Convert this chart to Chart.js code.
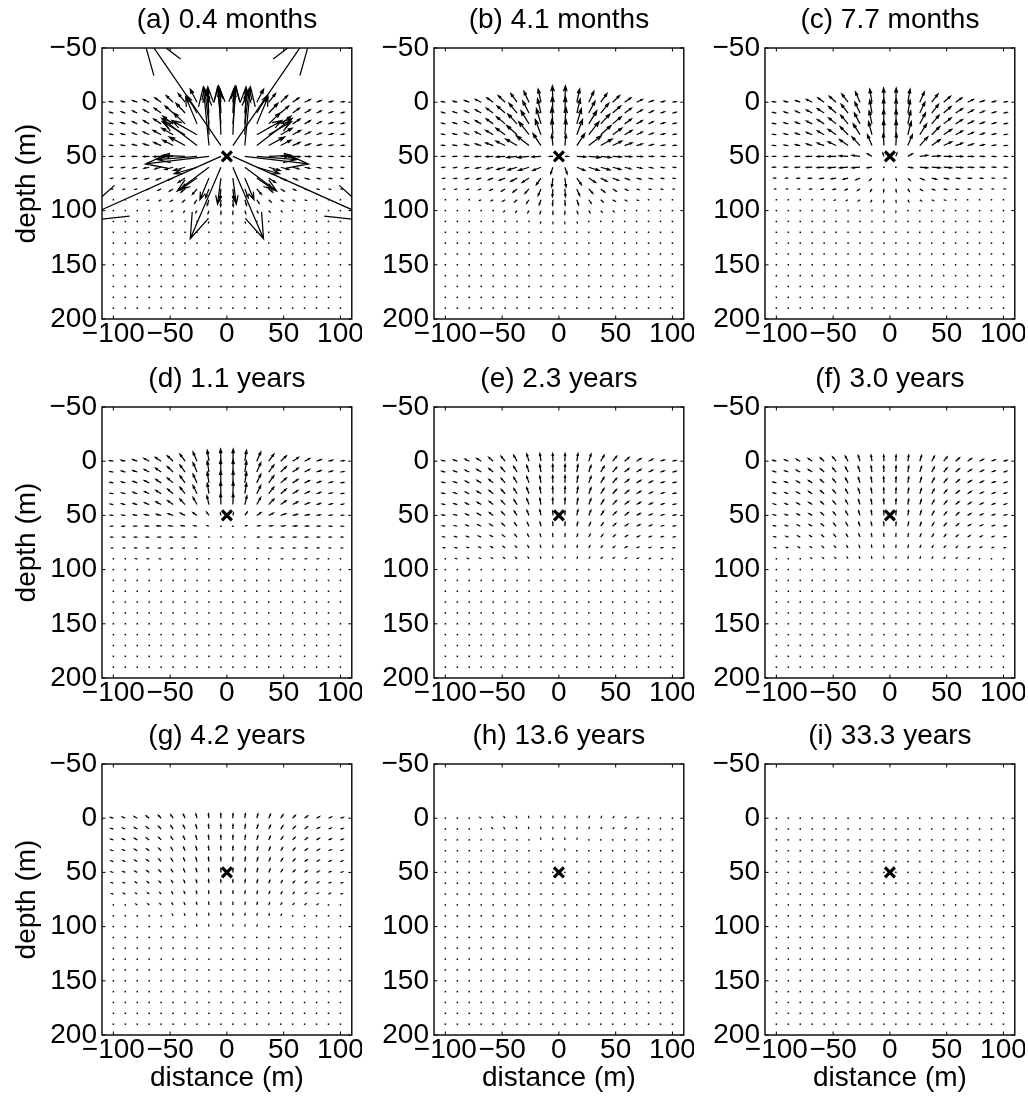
<!DOCTYPE html>
<html><head><meta charset="utf-8">
<script src="https://cdn.jsdelivr.net/npm/chart.js@4.4.1/dist/chart.umd.min.js"></script>
<style>
html,body{margin:0;padding:0;background:#fff;}
body{width:1028px;height:1101px;position:relative;overflow:hidden;}
canvas{position:absolute;}
</style></head>
<body>
<script>
// ---------------- data ----------------
const panelTitles = ['(a) 0.4 months','(b) 4.1 months','(c) 7.7 months','(d) 1.1 years','(e) 2.3 years','(f) 3.0 years','(g) 4.2 years','(h) 13.6 years','(i) 33.3 years'];
const xColumns = [-100,-89.47,-78.95,-68.42,-57.89,-47.37,-36.84,-26.32,-15.79,-5.26,5.26,15.79,26.32,36.84,47.37,57.89,68.42,78.95,89.47,100];
const depthRows = [0,10,20,30,40,50,60,70,80,90,100,110,120,130,140,150,160,170,180,190];
const xTickValues = [-100,-50,0,50,100];
const xTickLabels = ['\u2212100','\u221250','0','50','100'];
const yTickValues = [-50,0,50,100,150,200];
const yTickLabels = ['\u221250','0','50','100','150','200'];
const sourcePoint = [{x:0, y:50}];
// vectors [dx (m), d-depth (m)] for the right half columns x = 5.26 ... 100 (left half is the mirror image);
// rows follow depthRows; rows not listed are dot-sized (zero) vectors.
const vec_a = [
 [[1,-12],[1,-11],[6,-12],[6,-8],[6,-6],[5.5,-4],[5,-2.5],[4,-1.5],[3.5,-1],[3,-0.5]],
 [[1,-22],[2,-20],[9,-16],[8,-9],[7,-6.5],[6,-4.5],[5,-3],[4,-2],[3.5,-1.2],[3,-0.7]],
 [[3,-34],[4,-33],[10,-25],[10,-10],[9,-7],[6.5,-4.5],[5,-3],[4,-2],[3.5,-1.2],[3,-0.7]],
 [[2,-45],[1,-44],[22,-13],[20,-12],[10,-6],[7,-4],[5,-2.5],[4,-1.5],[3.5,-1],[3,-0.5]],
 [[70.6,-107.8],[5,-54],[31,-25],[14,-8],[9,-5],[6.5,-3],[5,-1.5],[4,-1],[3.5,-0.5],[3,-0.3]],
 [[130,61],[56,7],[35,3],[20,-1],[10,0],[6.5,0.3],[5,0.2],[4,0],[3.5,0],[3,0]],
 [[27,66],[28,22],[20,6],[10,3],[7,2],[5.5,1.5],[4.5,1],[3.5,0.7],[3,0.5],[2.5,0.3]],
 [[3,24],[8,20],[14,10],[6,4],[5,2],[4,1.5],[3.5,1],[3,0.7],[2.5,0.5],[2,0.3]],
 [[1,10],[3,8],[4,5],[3.5,3],[3,2],[2.5,1.2],[2,0.8],[1.8,0.5],[1.5,0.3],[1.2,0.2]],
 [[0.3,6],[1.5,5],[2,3],[2,2],[2,1.3],[1.5,0.8],[1.2,0.5],[1,0.3],[0.8,0.2],[0.7,0.1]],
 [[0,3],[0.8,2.5],[1,1.8],[1,1.2],[1,0.8],[0.8,0.5],[0.7,0.3],[0.6,0.2],[0.6,0.2],[0.6,0.2]],
 [[0,1.5],[0.4,1.2],[0.5,1],[0.5,0.7],[0.5,0.4],[0.4,0.2],[0.4,0.2],[0.4,0.2],[0.4,0.2],[0.4,0.2]]
];
const vec_b = [
 [[0.5,-15],[2.5,-12],[4.5,-10],[5.5,-8],[6,-6],[5.5,-4],[5,-2.5],[4,-1.5],[3.5,-1],[3,-0.5]],
 [[0.5,-15],[3,-13],[5.5,-11],[7,-9],[7,-6.5],[6,-4.5],[5,-3],[4,-2],[3.5,-1.2],[3,-0.7]],
 [[1,-15],[4,-14],[7,-12],[8,-9],[7.5,-6.5],[6,-4.5],[5,-3],[4,-2],[3.5,-1.2],[3,-0.7]],
 [[1,-14],[5,-14],[9,-12],[9,-8.5],[8,-6],[6.5,-4],[5,-2.5],[4,-1.5],[3.5,-1],[3,-0.5]],
 [[1,-10],[7,-11],[11,-9],[10,-6],[8,-4],[6.5,-2.5],[5,-1.5],[4,-1],[3.5,-0.5],[3,-0.3]],
 [[3,0],[8,0.5],[10,1],[9,1],[7.5,0.5],[6,0.3],[5,0.2],[4,0],[3.5,0],[3,0]],
 [[2,6],[7,3],[9,3],[8,2.5],[7,2],[5.5,1.5],[4.5,1],[3.5,0.7],[3,0.5],[2.5,0.3]],
 [[1,8],[4,6],[6,4],[5.5,3],[5,2],[4,1.5],[3.5,1],[3,0.7],[2.5,0.5],[2,0.3]],
 [[0.5,7],[2.5,6],[3.5,4],[3.5,3],[3,2],[2.5,1.2],[2,0.8],[1.8,0.5],[1.5,0.3],[1.2,0.2]],
 [[0.3,5],[1.5,4.5],[2,3],[2,2],[2,1.3],[1.5,0.8],[1.2,0.5],[1,0.3],[0.8,0.2],[0.7,0.1]],
 [[0,3],[0.8,2.5],[1,1.8],[1,1.2],[1,0.8],[0.8,0.5],[0.7,0.3],[0.6,0.2],[0.6,0.1],[0.5,0.1]],
 [[0,1.5],[0.4,1.2],[0.5,1],[0.5,0.7],[0.5,0.4],[0.4,0.3],[0.4,0.2],[0.4,0.1],[0.3,0.1],[0.3,0]]
];
const vec_c = [
 [[0.3,-13],[2,-12],[4,-9.5],[5.5,-7.5],[6,-5.5],[5.5,-4],[5,-2.5],[4,-1.5],[3.5,-1],[3,-0.5]],
 [[0.3,-13],[2,-12],[4.5,-10],[6,-8],[6.5,-6],[6,-4],[5,-2.8],[4,-1.8],[3.5,-1.1],[3,-0.6]],
 [[0.3,-13],[2.5,-12],[5,-10],[6.5,-8],[6.5,-5.5],[6,-4],[5,-2.5],[4,-1.6],[3.5,-1],[3,-0.5]],
 [[0.3,-13],[3,-12],[6,-10],[7,-7.5],[7,-5],[6,-3.5],[5,-2.2],[4,-1.4],[3.5,-0.8],[3,-0.4]],
 [[0.5,-11],[4,-10],[7,-8],[7.5,-5.5],[7,-3.5],[6,-2.3],[5,-1.5],[4,-0.9],[3.5,-0.5],[3,-0.2]],
 [[1,-3],[4,-2.5],[7,-1],[7.5,-0.5],[7,0],[6,0],[5,0],[4,0],[3.5,0],[3,0]],
 [[0.5,1],[4,0.5],[7,0.5],[7.5,0.5],[7,0.5],[6,0.3],[5,0.2],[4,0.1],[3.5,0],[3,0]],
 [[0.5,2],[2,2],[3.5,1.5],[4,1],[4,0.7],[3.5,0.5],[3,0.3],[2.5,0.2],[2,0.1],[2,0]],
 [[0.3,2.5],[1.2,2],[2,1.3],[2.3,0.9],[2.3,0.6],[2,0.4],[1.8,0.2],[1.5,0.1],[1.3,0],[1.2,0]],
 [[0.2,2],[0.8,1.6],[1.2,1],[1.3,0.7],[1.3,0.4],[1.1,0.2],[1,0.1],[0.9,0],[0.8,0],[0.7,0]],
 [[0,1.2],[0.4,1],[0.6,0.6],[0.6,0.4],[0.6,0.2],[0.5,0.1],[0.5,0],[0.4,0],[0.4,0],[0.4,0]]
];
const vec_d = [
 [[0.3,-11],[1.5,-10],[3.5,-8.5],[4.5,-6.5],[5,-5],[5,-3.5],[4.5,-2.5],[4,-1.5],[3.5,-1],[3,-0.5]],
 [[0.3,-11],[1.5,-10],[3.5,-8.5],[4.5,-6.5],[5,-5],[4.8,-3.5],[4.3,-2.3],[3.8,-1.5],[3.3,-1],[2.8,-0.5]],
 [[0.3,-11],[1.5,-10],[3.5,-8],[4.5,-6.5],[5,-4.5],[4.6,-3.2],[4.2,-2.1],[3.6,-1.4],[3.2,-0.9],[2.7,-0.5]],
 [[0.3,-11],[1.5,-9.5],[3.5,-7.5],[4.5,-6],[4.8,-4.2],[4.5,-3],[4,-2],[3.5,-1.3],[3,-0.8],[2.6,-0.4]],
 [[0.3,-10],[1.8,-8],[3.5,-6.5],[4.5,-5],[4.7,-3.5],[4.4,-2.5],[4,-1.7],[3.4,-1.1],[3,-0.7],[2.5,-0.4]],
 [[0.5,-2],[2,-3],[3.5,-2.5],[4,-2],[4.3,-1.5],[4,-1],[3.7,-0.7],[3.2,-0.5],[2.8,-0.3],[2.4,-0.2]],
 [[0.3,-0.5],[1.5,-0.5],[2.5,-0.5],[3.2,-0.5],[3.5,-0.4],[3.5,-0.3],[3.2,-0.2],[2.8,-0.1],[2.5,0],[2.2,0]],
 [[0.2,0],[1,0],[1.8,0],[2.3,0],[2.6,0],[2.6,0],[2.5,0],[2.2,0],[2,0],[1.8,0]],
 [[0,0.2],[0.6,0.2],[1.2,0.2],[1.6,0.2],[1.8,0.1],[1.9,0.1],[1.8,0],[1.7,0],[1.5,0],[1.4,0]],
 [[0,0],[0.4,0.2],[0.8,0.2],[1.1,0.2],[1.3,0.1],[1.3,0.1],[1.3,0],[1.2,0],[1.1,0],[1,0]],
 [[0,0],[0.2,0.1],[0.5,0.1],[0.7,0.1],[0.8,0.1],[0.8,0],[0.8,0],[0.8,0],[0.7,0],[0.7,0]]
];
const vec_e = [
 [[0.2,-7],[1,-7],[2,-6.5],[3,-5.5],[3.5,-4.5],[3.8,-3.5],[3.8,-2.5],[3.5,-1.8],[3.2,-1.2],[3,-0.8]],
 [[0.2,-7],[1,-6.6],[2,-6],[3,-5.2],[3.5,-4.3],[3.7,-3.3],[3.7,-2.4],[3.4,-1.7],[3.1,-1.1],[2.9,-0.7]],
 [[0.2,-6.6],[1,-6.3],[2,-5.8],[2.9,-5],[3.4,-4.1],[3.6,-3.1],[3.6,-2.3],[3.3,-1.6],[3,-1],[2.8,-0.6]],
 [[0.2,-6.3],[1,-6],[2,-5.5],[2.8,-4.7],[3.3,-3.9],[3.5,-3],[3.5,-2.2],[3.2,-1.5],[2.9,-1],[2.7,-0.6]],
 [[0.2,-6],[1,-5.7],[1.9,-5.2],[2.7,-4.4],[3.2,-3.6],[3.4,-2.8],[3.3,-2],[3.1,-1.4],[2.8,-0.9],[2.6,-0.5]],
 [[0.2,-4],[1,-5],[1.8,-4.6],[2.5,-4],[3,-3.2],[3.2,-2.5],[3.1,-1.8],[2.9,-1.2],[2.7,-0.8],[2.5,-0.5]],
 [[0.2,-3.6],[0.8,-3.5],[1.5,-3.3],[2.1,-2.9],[2.6,-2.4],[2.8,-1.9],[2.8,-1.4],[2.6,-1],[2.4,-0.6],[2.2,-0.4]],
 [[0.2,-2.6],[0.7,-2.5],[1.2,-2.4],[1.7,-2.1],[2.1,-1.8],[2.3,-1.4],[2.3,-1],[2.2,-0.7],[2,-0.5],[1.9,-0.3]],
 [[0.1,-1.8],[0.5,-1.8],[0.9,-1.7],[1.3,-1.5],[1.6,-1.3],[1.8,-1],[1.8,-0.7],[1.7,-0.5],[1.6,-0.3],[1.5,-0.2]],
 [[0.1,-1.2],[0.4,-1.2],[0.7,-1.2],[1,-1],[1.2,-0.9],[1.3,-0.7],[1.3,-0.5],[1.3,-0.4],[1.2,-0.2],[1.1,-0.1]],
 [[0,-0.8],[0.2,-0.8],[0.4,-0.8],[0.6,-0.7],[0.8,-0.6],[0.8,-0.4],[0.8,-0.3],[0.8,-0.2],[0.8,-0.1],[0.7,0]]
];
const vec_f = [
 [[0.2,-5.5],[0.8,-5.5],[1.6,-5.2],[2.4,-4.6],[3,-3.9],[3.3,-3.1],[3.4,-2.4],[3.3,-1.8],[3.1,-1.3],[2.9,-0.9]],
 [[0.2,-5.5],[0.8,-5.4],[1.6,-5],[2.3,-4.4],[2.9,-3.7],[3.2,-3],[3.3,-2.3],[3.2,-1.7],[3,-1.2],[2.8,-0.8]],
 [[0.2,-5.3],[0.8,-5.2],[1.5,-4.8],[2.2,-4.2],[2.8,-3.6],[3.1,-2.9],[3.2,-2.2],[3.1,-1.6],[2.9,-1.1],[2.7,-0.8]],
 [[0.2,-5.2],[0.8,-5],[1.5,-4.6],[2.1,-4],[2.7,-3.4],[3,-2.7],[3.1,-2.1],[3,-1.5],[2.8,-1.1],[2.6,-0.7]],
 [[0.2,-5],[0.8,-4.8],[1.4,-4.4],[2,-3.8],[2.6,-3.2],[2.9,-2.6],[3,-2],[2.9,-1.4],[2.7,-1],[2.5,-0.7]],
 [[0.2,-4.2],[0.7,-4.4],[1.3,-4.1],[1.9,-3.6],[2.4,-3],[2.7,-2.4],[2.8,-1.8],[2.7,-1.3],[2.6,-0.9],[2.4,-0.6]],
 [[0.2,-3.6],[0.7,-3.6],[1.2,-3.4],[1.7,-3],[2.1,-2.6],[2.4,-2.1],[2.5,-1.6],[2.4,-1.2],[2.3,-0.8],[2.2,-0.5]],
 [[0.1,-2.8],[0.5,-2.8],[1,-2.6],[1.4,-2.4],[1.7,-2.1],[1.9,-1.7],[2,-1.3],[2,-1],[1.9,-0.7],[1.8,-0.4]],
 [[0.1,-2],[0.4,-2],[0.7,-1.9],[1,-1.7],[1.3,-1.5],[1.4,-1.2],[1.5,-1],[1.5,-0.7],[1.4,-0.5],[1.3,-0.3]],
 [[0.1,-1.4],[0.3,-1.4],[0.5,-1.3],[0.7,-1.2],[0.9,-1],[1,-0.8],[1,-0.6],[1,-0.5],[1,-0.3],[0.9,-0.2]],
 [[0,-0.9],[0.2,-0.9],[0.3,-0.8],[0.5,-0.7],[0.6,-0.6],[0.6,-0.4],[0.6,-0.3],[0.6,-0.3],[0.6,-0.2],[0.6,-0.1]]
];
const vec_g = [
 [[0.1,-4],[0.5,-4],[1,-3.8],[1.5,-3.4],[2,-3],[2.3,-2.5],[2.5,-2],[2.5,-1.5],[2.4,-1.1],[2.3,-0.8]],
 [[0.1,-4],[0.5,-3.9],[1,-3.7],[1.5,-3.3],[1.9,-2.9],[2.2,-2.4],[2.4,-1.9],[2.4,-1.4],[2.3,-1],[2.2,-0.7]],
 [[0.1,-3.9],[0.5,-3.8],[1,-3.6],[1.4,-3.2],[1.8,-2.8],[2.1,-2.3],[2.3,-1.8],[2.3,-1.4],[2.2,-1],[2.1,-0.7]],
 [[0.1,-3.8],[0.5,-3.7],[0.9,-3.5],[1.3,-3.1],[1.7,-2.7],[2,-2.2],[2.2,-1.7],[2.2,-1.3],[2.1,-0.9],[2,-0.6]],
 [[0.1,-3.7],[0.5,-3.6],[0.9,-3.4],[1.3,-3],[1.6,-2.6],[1.9,-2.1],[2.1,-1.6],[2.1,-1.2],[2,-0.9],[1.9,-0.6]],
 [[0.1,-3.4],[0.4,-3.4],[0.8,-3.2],[1.2,-2.8],[1.5,-2.4],[1.8,-2],[1.9,-1.5],[2,-1.1],[1.9,-0.8],[1.8,-0.5]],
 [[0.1,-3],[0.4,-3],[0.7,-2.8],[1,-2.5],[1.3,-2.1],[1.5,-1.7],[1.6,-1.3],[1.6,-1],[1.6,-0.7],[1.5,-0.5]],
 [[0.1,-2.6],[0.3,-2.5],[0.6,-2.4],[0.8,-2.1],[1.1,-1.8],[1.2,-1.4],[1.3,-1.1],[1.3,-0.8],[1.3,-0.6],[1.2,-0.4]],
 [[0,-2.1],[0.3,-2.1],[0.5,-2],[0.7,-1.7],[0.8,-1.4],[1,-1.1],[1,-0.9],[1,-0.7],[1,-0.5],[1,-0.3]],
 [[0,-1.7],[0.2,-1.7],[0.4,-1.6],[0.5,-1.4],[0.6,-1.1],[0.7,-0.9],[0.8,-0.7],[0.8,-0.5],[0.8,-0.4],[0.7,-0.2]],
 [[0,-1.3],[0.2,-1.3],[0.3,-1.2],[0.4,-1],[0.5,-0.8],[0.5,-0.6],[0.5,-0.4],[0.5,-0.3],[0.5,-0.2],[0.5,-0.1]],
 [[0,-1],[0.1,-1],[0.2,-0.9],[0.3,-0.7],[0.3,-0.5],[0.3,-0.4],[0.3,-0.3],[0.3,-0.2],[0.3,-0.1],[0.3,-0.1]],
 [[0,-0.7],[0.1,-0.7],[0.2,-0.6],[0.2,-0.5],[0.2,-0.4],[0.2,-0.3],[0.2,-0.2],[0.2,-0.1],[0.2,-0.1],[0.2,0]]
];
const vec_h = [
 [[0,-1.3],[0.2,-1.3],[0.4,-1.2],[0.6,-1.1],[0.8,-1],[0.9,-0.8],[1,-0.6],[1,-0.5],[1,-0.3],[1,-0.2]],
 [[0,-1.3],[0.2,-1.2],[0.4,-1.2],[0.6,-1.1],[0.8,-0.9],[0.9,-0.8],[0.9,-0.6],[0.9,-0.4],[0.9,-0.3],[0.9,-0.2]],
 [[0,-1.2],[0.2,-1.2],[0.4,-1.1],[0.6,-1],[0.7,-0.9],[0.8,-0.7],[0.9,-0.6],[0.9,-0.4],[0.9,-0.3],[0.8,-0.2]],
 [[0,-1.2],[0.2,-1.1],[0.4,-1.1],[0.5,-1],[0.7,-0.8],[0.8,-0.7],[0.8,-0.5],[0.8,-0.4],[0.8,-0.3],[0.8,-0.2]],
 [[0,-1.1],[0.2,-1.1],[0.3,-1],[0.5,-0.9],[0.6,-0.8],[0.7,-0.6],[0.8,-0.5],[0.8,-0.4],[0.8,-0.3],[0.7,-0.2]],
 [[0,-1],[0.2,-1],[0.3,-0.9],[0.5,-0.8],[0.6,-0.7],[0.7,-0.6],[0.7,-0.5],[0.7,-0.3],[0.7,-0.2],[0.7,-0.1]],
 [[0,-0.9],[0.1,-0.9],[0.3,-0.8],[0.4,-0.7],[0.5,-0.6],[0.6,-0.5],[0.6,-0.4],[0.6,-0.3],[0.6,-0.2],[0.6,-0.1]]
];
const vec_i = [];
const panelVectors = [vec_a, vec_b, vec_c, vec_d, vec_e, vec_f, vec_g, vec_h, vec_i];

// ---------------- layout ----------------
const FONT = "'Liberation Sans', Arial, Helvetica, sans-serif";
const colLeft = [0, 362, 694], axisW = [102, 72, 71];
const rowTop = [2, 361, 718], bottomH = [40, 40, 64];
const BOX_W = 250, BOX_H = 271, TITLE_H = 46, RIGHT_PAD = 10;

function vectorAt(vec, i, c) {
  const row = vec[i];
  if (!row) return [0, 0];
  if (c >= 10) return row[c - 10];
  const v = row[9 - c];
  return [-v[0], v[1]];
}

const quiverPlugin = {
  id: 'quiver',
  beforeDatasetsDraw(chart, args, opts) {
    const vec = panelVectors[opts.panel];
    const ctx = chart.ctx, a = chart.chartArea;
    const sx = v => chart.scales.x.getPixelForValue(v);
    const sy = v => chart.scales.y.getPixelForValue(v);
    ctx.save();
    ctx.beginPath(); ctx.rect(a.left, a.top, a.right - a.left, a.bottom - a.top); ctx.clip();
    ctx.strokeStyle = '#000'; ctx.fillStyle = '#000'; ctx.lineWidth = 1.25; ctx.lineCap = 'butt'; ctx.lineJoin = 'miter';
    const al = 0.33, be = 0.33;
    for (let i = 0; i < depthRows.length; i++) {
      for (let c = 0; c < xColumns.length; c++) {
        const [u, w] = vectorAt(vec, i, c);
        const x = xColumns[c], y = depthRows[i];
        const x0 = sx(x), y0 = sy(y);
        const tx = x + u, ty = y + w;
        const len = Math.hypot(sx(tx) - x0, sy(ty) - y0);
        if (len < 1.3) { ctx.fillRect(x0 - 0.75, y0 - 0.75, 1.5, 1.5); continue; }
        const b1x = tx - al * (u + be * w), b1y = ty - al * (w - be * u);
        const b2x = tx - al * (u - be * w), b2y = ty - al * (w + be * u);
        ctx.beginPath();
        ctx.moveTo(x0, y0); ctx.lineTo(sx(tx), sy(ty));
        ctx.moveTo(sx(b1x), sy(b1y)); ctx.lineTo(sx(tx), sy(ty)); ctx.lineTo(sx(b2x), sy(b2y));
        ctx.stroke();
      }
    }
    ctx.restore();
  },
  afterDatasetsDraw(chart) {
    const ctx = chart.ctx, a = chart.chartArea;
    ctx.save();
    ctx.strokeStyle = '#000'; ctx.lineWidth = 1.4;
    ctx.strokeRect(a.left, a.top, a.right - a.left, a.bottom - a.top);
    ctx.lineWidth = 1;
    const tl = 3.5;
    ctx.beginPath();
    xTickValues.forEach(v => {
      const p = chart.scales.x.getPixelForValue(v);
      ctx.moveTo(p, a.bottom); ctx.lineTo(p, a.bottom - tl);
      ctx.moveTo(p, a.top); ctx.lineTo(p, a.top + tl);
    });
    yTickValues.forEach(v => {
      const p = chart.scales.y.getPixelForValue(v);
      ctx.moveTo(a.left, p); ctx.lineTo(a.left + tl, p);
      ctx.moveTo(a.right, p); ctx.lineTo(a.right - tl, p);
    });
    ctx.stroke();
    ctx.restore();
  }
};

for (let k = 0; k < 9; k++) {
  const r = Math.floor(k / 3), c = k % 3;
  const cv = document.createElement('canvas');
  const W = axisW[c] + BOX_W + RIGHT_PAD, H = TITLE_H + BOX_H + bottomH[r];
  cv.width = W; cv.height = H;
  cv.style.left = colLeft[c] + 'px'; cv.style.top = rowTop[r] + 'px';
  cv.style.width = W + 'px'; cv.style.height = H + 'px';
  document.body.appendChild(cv);
  const font = {family: FONT, size: 28, lineHeight: 1, weight: 'normal'};
  new Chart(cv, {
    type: 'scatter',
    data: {datasets: [{data: sourcePoint, pointStyle: 'crossRot', pointRadius: 7, pointHoverRadius: 7,
      borderColor: '#000', backgroundColor: '#000', borderWidth: 3.2}]},
    options: {
      responsive: false, animation: false, events: [], devicePixelRatio: 1,
      layout: {padding: {left: 0, right: RIGHT_PAD, top: 0, bottom: 0}},
      plugins: {
        legend: {display: false}, tooltip: {enabled: false},
        title: {display: true, text: panelTitles[k], fullSize: false, color: '#000', font: font, padding: {top: 4, bottom: 14}},
        quiver: {panel: k}
      },
      scales: {
        x: {
          type: 'linear', min: -110, max: 110,
          grid: {display: false, drawTicks: false}, border: {display: false},
          afterBuildTicks: s => { s.ticks = xTickValues.map(v => ({value: v})); },
          afterFit: s => { s.height = bottomH[r]; s.paddingLeft = 0; s.paddingRight = 0; },
          ticks: {color: '#000', font: font, padding: 1, maxRotation: 0, autoSkip: false,
            callback: v => { const q = xTickValues.indexOf(v); return q >= 0 ? xTickLabels[q] : ''; }},
          title: {display: r === 2, text: 'distance (m)', color: '#000', font: font, padding: {top: 0, bottom: 7}}
        },
        y: {
          type: 'linear', reverse: true, min: -50, max: 200,
          grid: {display: false, drawTicks: false}, border: {display: false},
          afterBuildTicks: s => { s.ticks = yTickValues.map(v => ({value: v})); },
          afterFit: s => { s.width = axisW[c]; s.paddingTop = 0; s.paddingBottom = 0; },
          ticks: {color: '#000', font: font, padding: 5, autoSkip: false,
            callback: v => { const q = yTickValues.indexOf(v); return q >= 0 ? yTickLabels[q] : ''; }},
          title: {display: c === 0, text: 'depth (m)', color: '#000', font: font, padding: {top: 13, bottom: 0}}
        }
      }
    },
    plugins: [quiverPlugin]
  });
}
</script>
</body></html>
